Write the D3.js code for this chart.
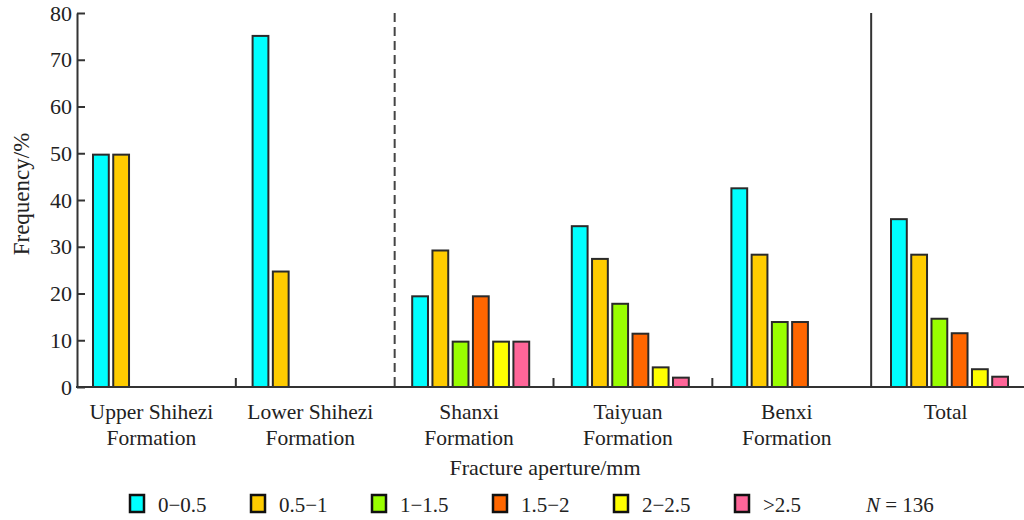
<!DOCTYPE html>
<html>
<head>
<meta charset="utf-8">
<script src="https://cdn.jsdelivr.net/npm/d3@7"></script>
<style>
  html, body { margin: 0; padding: 0; background: #fff; }
  svg { display: block; font-family: "Liberation Serif", "Times New Roman", serif; }
</style>
</head>
<body>
<svg id="chart" width="1024" height="520"></svg>
<script>
// Formations (two-line labels) and aperture classes
const formations = ["Upper Shihezi", "Lower Shihezi", "Shanxi", "Taiyuan", "Benxi", "Total"];
const formationLine2 = ["Formation", "Formation", "Formation", "Formation", "Formation", ""];
const classes = ["0\u22120.5", "0.5\u22121", "1\u22121.5", "1.5\u22122", "2\u22122.5", ">2.5"];
const classColors = ["#00FFFF", "#FFCC00", "#99FF00", "#FF6600", "#FFFF00", "#FF6699"];

// Frequency (%) of each aperture class per formation; null = no bar
const upperShihezi = [49.7, 49.7, null, null, null, null];
const lowerShihezi = [75.1, 24.7, null, null, null, null];
const shanxi       = [19.4, 29.2, 9.7, 19.4, 9.7, 9.7];
const taiyuan      = [34.4, 27.4, 17.8, 11.4, 4.2, 2.0];
const benxi        = [42.5, 28.3, 13.9, 13.9, null, null];
const total        = [35.9, 28.3, 14.6, 11.5, 3.8, 2.2];
const seriesByFormation = [upperShihezi, lowerShihezi, shanxi, taiyuan, benxi, total];

const yTicks = [0, 10, 20, 30, 40, 50, 60, 70, 80];
const sampleCount = "136";

const svg = d3.select("#chart");
const plotLeft = 77, plotRight = 1030, plotTop = 13, plotBottom = 387;
const textColor = "#222";

const y = d3.scaleLinear().domain([0, 80]).range([plotBottom, plotTop]);

// group boundaries along the category axis
const xGroup = d3.scaleBand().domain(formations).range([plotLeft, plotRight]);
// bar clusters (left-aligned inside each group)
const xBarGroup = d3.scaleBand().domain(formations).range([76.5, 76.5 + 6 * 159.6]);
const xInner = d3.scaleBand().domain(classes).range([16.5, 16.5 + 6 * 19.5]).paddingInner(0.22).paddingOuter(0);

const axisColor = "#333";

// bars
formations.forEach((f, gi) => {
  const vals = seriesByFormation[gi];
  svg.append("g")
    .selectAll("rect")
    .data(vals.map((v, i) => ({ v, i })).filter(d => d.v !== null))
    .join("rect")
    .attr("x", d => xBarGroup(f) + xInner(classes[d.i]))
    .attr("y", d => y(d.v))
    .attr("width", xInner.bandwidth())
    .attr("height", d => y(0) - y(d.v))
    .attr("fill", d => classColors[d.i])
    .attr("stroke", "#2a2a2a")
    .attr("stroke-width", 2);
});

// left axis with inward ticks
const yAxis = d3.axisLeft(y).tickValues(yTicks).tickSize(-8).tickPadding(5).tickSizeOuter(0);
const gy = svg.append("g").attr("transform", `translate(${plotLeft},0)`).call(yAxis);
gy.select(".domain").attr("stroke", axisColor).attr("stroke-width", 2);
gy.selectAll(".tick line").attr("stroke", axisColor).attr("stroke-width", 2);
gy.selectAll(".tick text").attr("font-size", 22).attr("fill", textColor)
  .attr("font-family", "Liberation Serif, serif");

// bottom axis line
svg.append("line")
  .attr("x1", plotLeft - 1).attr("x2", 1024)
  .attr("y1", y(0)).attr("y2", y(0))
  .attr("stroke", axisColor).attr("stroke-width", 2);

// short separator ticks between groups
const shortSeps = ["Lower Shihezi", "Taiyuan", "Benxi"];
svg.append("g").selectAll("line").data(shortSeps).join("line")
  .attr("x1", d => xGroup(d)).attr("x2", d => xGroup(d))
  .attr("y1", y(0)).attr("y2", y(0) - 9)
  .attr("stroke", axisColor).attr("stroke-width", 2);

// dashed separator before Shanxi
svg.append("line")
  .attr("x1", xGroup("Shanxi")).attr("x2", xGroup("Shanxi"))
  .attr("y1", y(80)).attr("y2", y(0))
  .attr("stroke", "#444").attr("stroke-width", 2)
  .attr("stroke-dasharray", "9,5");

// solid separator before Total
svg.append("line")
  .attr("x1", xGroup("Total")).attr("x2", xGroup("Total"))
  .attr("y1", y(80)).attr("y2", y(0))
  .attr("stroke", axisColor).attr("stroke-width", 2);

// category labels
const catG = svg.append("g").attr("font-size", 21.5).attr("fill", textColor).attr("text-anchor", "middle");
formations.forEach((f, i) => {
  const cx = xGroup(f) + xGroup.bandwidth() / 2 - 5;
  catG.append("text").attr("x", cx).attr("y", 419).text(f);
  if (formationLine2[i]) catG.append("text").attr("x", cx).attr("y", 445).text(formationLine2[i]);
});

// axis titles
svg.append("text")
  .attr("transform", "translate(29,194) rotate(-90)")
  .attr("text-anchor", "middle").attr("font-size", 23).attr("fill", textColor)
  .text("Frequency/%");
svg.append("text")
  .attr("x", 545).attr("y", 475)
  .attr("text-anchor", "middle").attr("font-size", 22).attr("fill", textColor)
  .text("Fracture aperture/mm");

// legend
const legendX = d3.scalePoint().domain(classes).range([130, 735]);
const lg = svg.append("g");
classes.forEach((c, i) => {
  const lx = legendX(c);
  lg.append("rect")
    .attr("x", lx).attr("y", 495).attr("width", 14).attr("height", 17)
    .attr("fill", classColors[i]).attr("stroke", "#111").attr("stroke-width", 2.5);
  lg.append("text")
    .attr("x", lx + 28).attr("y", 512)
    .attr("font-size", 21).attr("fill", textColor).text(c);
});
const nText = lg.append("text").attr("x", 866).attr("y", 512).attr("font-size", 21).attr("fill", textColor);
nText.append("tspan").attr("font-style", "italic").text("N");
nText.append("tspan").text(" = " + sampleCount);
</script>
</body>
</html>
